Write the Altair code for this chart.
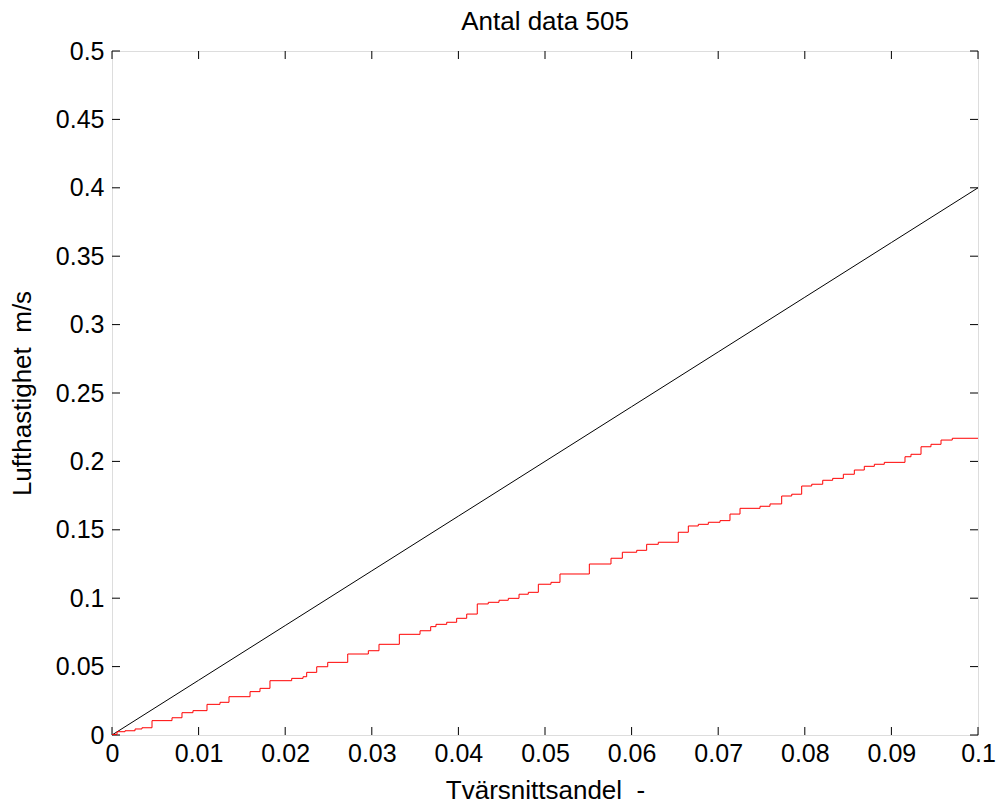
import altair as alt
import pandas as pd

# Black reference line (read at every 0.01)
black_x = [0.0, 0.01, 0.02, 0.03, 0.04, 0.05, 0.06, 0.07, 0.08, 0.09, 0.1]
black_y = [0.0, 0.04, 0.08, 0.12, 0.16, 0.20, 0.24, 0.28, 0.32, 0.36, 0.40]

# Red step line: x where step rises, level after the rise
red_x = [0.0, 0.00058, 0.0015, 0.00266, 0.00346, 0.00462, 0.00693, 0.00808, 0.00935,
         0.01097, 0.01247, 0.01351, 0.01594, 0.01709, 0.01824, 0.02075, 0.02206, 0.02248,
         0.02364, 0.02491, 0.02722, 0.0296, 0.03083, 0.03318, 0.03557, 0.0368, 0.03741,
         0.03865, 0.0398, 0.04096, 0.04218, 0.04345, 0.04469, 0.04576, 0.047, 0.04807,
         0.04923, 0.05069, 0.05173, 0.05512, 0.05762, 0.05893, 0.06059, 0.06174, 0.06308,
         0.06539, 0.06655, 0.0677, 0.06886, 0.07021, 0.07136, 0.07252, 0.07483, 0.07598,
         0.07733, 0.07849, 0.07964, 0.0808, 0.08207, 0.08322, 0.08445, 0.08572, 0.08687,
         0.08803, 0.08918, 0.09157, 0.09226, 0.09342, 0.09457, 0.09573, 0.09703, 0.1]
red_y = [0.0004, 0.0024, 0.0031, 0.0044, 0.0053, 0.0105, 0.0126, 0.0163, 0.0178,
         0.0224, 0.0239, 0.0280, 0.0317, 0.0341, 0.0397, 0.0414, 0.0426, 0.0458,
         0.0499, 0.0531, 0.0592, 0.0616, 0.0663, 0.0736, 0.0762, 0.0792, 0.0809,
         0.0824, 0.0853, 0.0884, 0.0958, 0.0970, 0.0985, 0.0999, 0.1029, 0.1043,
         0.1102, 0.1116, 0.1177, 0.1250, 0.1292, 0.1336, 0.1350, 0.1394, 0.1409,
         0.1482, 0.1528, 0.1540, 0.1555, 0.1567, 0.1615, 0.1657, 0.1672, 0.1689,
         0.1747, 0.1760, 0.1820, 0.1833, 0.1862, 0.1876, 0.1906, 0.1937, 0.1964,
         0.1979, 0.1993, 0.2034, 0.2052, 0.2107, 0.2125, 0.2156, 0.2169, 0.2169]

x_ticks = [0.0, 0.01, 0.02, 0.03, 0.04, 0.05, 0.06, 0.07, 0.08, 0.09, 0.1]
y_ticks = [0.0, 0.05, 0.1, 0.15, 0.2, 0.25, 0.3, 0.35, 0.4, 0.45, 0.5]
title_text = "Antal data 505"

W, H = 866, 684
FONT = "Liberation Sans"
FS = 25
TFS = 26

black_df = pd.DataFrame({"x": black_x, "y": black_y})
red_df = pd.DataFrame({"x": red_x, "y": red_y})
xt_df = pd.DataFrame({"x": x_ticks})
yt_df = pd.DataFrame({"y": y_ticks})

xscale = alt.Scale(domain=[0, 0.1], nice=False, zero=False)
yscale = alt.Scale(domain=[0, 0.5], nice=False, zero=False)

xaxis = alt.Axis(values=x_ticks, format="~g", title="Tvärsnittsandel \u00a0-",
                 labelFontSize=FS, titleFontSize=TFS, labelFont=FONT, titleFont=FONT,
                 labelColor="black", titleColor="black", titleFontWeight="normal",
                 ticks=False, domain=False, grid=False, labelPadding=6,
                 titleX=W / 2, titleY=55, titleBaseline="middle", titleAlign="center",
                 labelFlush=False, labelOverlap=False)
yaxis = alt.Axis(values=y_ticks, format="~g", title="Lufthastighet \u00a0m/s",
                 labelFontSize=FS, titleFontSize=TFS, labelFont=FONT, titleFont=FONT,
                 labelColor="black", titleColor="black", titleFontWeight="normal",
                 ticks=False, domain=False, grid=False, labelPadding=8,
                 titleX=-90, titleY=H / 2, titleAngle=270, titleBaseline="middle",
                 titleAlign="center", labelFlush=False, labelOverlap=False)

black = alt.Chart(black_df).mark_line(color="black", strokeWidth=1).encode(
    x=alt.X("x:Q", scale=xscale, axis=xaxis),
    y=alt.Y("y:Q", scale=yscale, axis=yaxis),
)
red = alt.Chart(red_df).mark_line(color="#ff0000", strokeWidth=1,
                                  interpolate="step-after").encode(
    x=alt.X("x:Q", scale=xscale, axis=xaxis),
    y=alt.Y("y:Q", scale=yscale, axis=yaxis),
)

tick_len = 8
bottom_ticks = alt.Chart(xt_df).mark_rule(color="black", strokeWidth=1).encode(
    x=alt.X("x:Q", scale=xscale, axis=xaxis),
    y=alt.value(H), y2=alt.value(H - tick_len))
top_ticks = alt.Chart(xt_df).mark_rule(color="black", strokeWidth=1).encode(
    x=alt.X("x:Q", scale=xscale, axis=xaxis),
    y=alt.value(0), y2=alt.value(tick_len))
left_ticks = alt.Chart(yt_df).mark_rule(color="black", strokeWidth=1).encode(
    y=alt.Y("y:Q", scale=yscale, axis=yaxis),
    x=alt.value(0), x2=alt.value(tick_len))
right_ticks = alt.Chart(yt_df).mark_rule(color="black", strokeWidth=1).encode(
    y=alt.Y("y:Q", scale=yscale, axis=yaxis),
    x=alt.value(W), x2=alt.value(W - tick_len))

title_df = pd.DataFrame({"t": [title_text]})
title_mark = alt.Chart(title_df).mark_text(
    font=FONT, fontSize=TFS, color="black", align="center", baseline="middle"
).encode(x=alt.value(W / 2), y=alt.value(-29), text="t:N")

chart = alt.layer(bottom_ticks, top_ticks, left_ticks, right_ticks, black, red,
                  title_mark).properties(
    width=W, height=H,
    autosize=alt.AutoSizeParams(type="none"),
    padding={"left": 112, "top": 51, "right": 22, "bottom": 72},
).configure_view(stroke="black", strokeWidth=1).configure(background="white")

chart.save("out.html", embed_options={"renderer": "svg", "actions": False})
